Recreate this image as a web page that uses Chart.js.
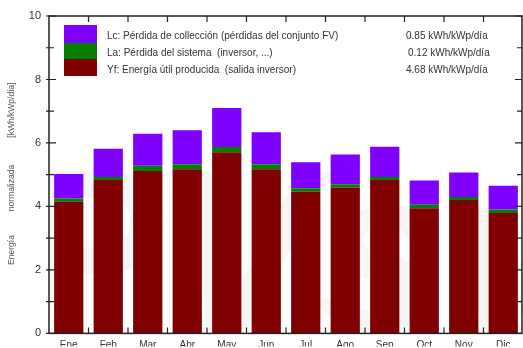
<!DOCTYPE html>
<html>
<head>
<meta charset="utf-8">
<script src="https://cdn.jsdelivr.net/npm/chart.js@4.4.1/dist/chart.umd.min.js"></script>
<style>
  html, body { margin: 0; padding: 0; background: #fff; }
  #wrap { width: 523px; height: 348px; }
</style>
</head>
<body>
<div id="wrap"><canvas id="grafico" width="523" height="348"></canvas></div>
<script>
// Dados do gráfico
const meses = ["Ene", "Feb", "Mar", "Abr", "May", "Jun", "Jul", "Ago", "Sep", "Oct", "Nov", "Dic"];
const yf = [4.15, 4.83, 5.12, 5.17, 5.71, 5.17, 4.46, 4.60, 4.83, 3.94, 4.20, 3.79];
const ls = [0.10, 0.10, 0.16, 0.16, 0.16, 0.16, 0.11, 0.10, 0.10, 0.11, 0.10, 0.11];
const lc = [0.77, 0.89, 1.01, 1.07, 1.23, 1.01, 0.82, 0.94, 0.95, 0.77, 0.77, 0.75];
const yTicks = [0, 2, 4, 6, 8, 10];

const legendaTextos = [
    "Lc: Pérdida de collección (pérdidas del conjunto FV)",
    "La: Pérdida del sistema  (inversor, ...)",
    "Yf: Energía útil producida  (salida inversor)"
];
const legendaValores = ["0.85 kWh/kWp/día", "0.12 kWh/kWp/día", "4.68 kWh/kWp/día"];

const corLc = "#7f00ff";
const corLs = "#008000";
const corYf = "#800000";

// Marca d'água, moldura, ticks, legenda e título do eixo
const molduraPlugin = {
    id: "moldura",
    beforeDatasetsDraw(chart) {
        const ctx = chart.ctx;
        const a = chart.chartArea;
        ctx.save();
        ctx.beginPath();
        ctx.rect(a.left, a.top, a.right - a.left, a.bottom - a.top);
        ctx.clip();
        ctx.fillStyle = "#f6f6f6";
        ctx.font = "italic bold 230px 'Liberation Sans', Arial, sans-serif";
        ctx.fillText("PVsyst", 10, 330);
        ctx.restore();
    },
    afterDraw(chart) {
        const ctx = chart.ctx;
        const a = chart.chartArea;
        const x = chart.scales.x;
        const y = chart.scales.y;
        ctx.save();
        ctx.strokeStyle = "#222";
        ctx.lineWidth = 1.5;
        ctx.strokeRect(a.left, a.top, a.right - a.left - 1, a.bottom - a.top);

        ctx.lineWidth = 1.2;
        ctx.beginPath();
        for (let v = 0; v <= 10; v++) {
            const py = y.getPixelForValue(v);
            const len = v % 2 === 0 ? 7 : 5;
            ctx.moveTo(a.left - 3, py);
            ctx.lineTo(a.left + len, py);
            ctx.moveTo(a.right - 1, py);
            ctx.lineTo(a.right - 1 - len, py);
        }
        for (let i = 0; i < meses.length - 1; i++) {
            const px = (x.getPixelForValue(i) + x.getPixelForValue(i + 1)) / 2;
            ctx.moveTo(px, a.bottom);
            ctx.lineTo(px, a.bottom - 6);
            ctx.moveTo(px, a.top);
            ctx.lineTo(px, a.top + 6);
        }
        ctx.stroke();

        // Legenda
        const cores = [corLc, corLs, corYf];
        const caixas = [[25, 18], [43, 16], [59, 17]];
        cores.forEach((c, i) => {
            ctx.fillStyle = c;
            ctx.fillRect(64, caixas[i][0], 33, caixas[i][1]);
        });
        ctx.fillStyle = "#333";
        ctx.font = "10px 'Liberation Sans', Arial, sans-serif";
        ctx.textBaseline = "middle";
        const linhas = [36, 53, 70];
        const xsValores = [406, 408, 406];
        legendaTextos.forEach((t, i) => {
            ctx.fillText(t, 107, linhas[i]);
            ctx.fillText(legendaValores[i], xsValores[i], linhas[i]);
        });

        // Título do eixo Y
        ctx.fillStyle = "#555";
        ctx.font = "8.5px 'Liberation Sans', Arial, sans-serif";
        ctx.textAlign = "center";
        const partes = [["Energía", 250], ["normalizada", 188], ["[kWh/kWp/día]", 110]];
        partes.forEach(([t, cy]) => {
            ctx.save();
            ctx.translate(12, cy);
            ctx.rotate(-Math.PI / 2);
            ctx.fillText(t, 0, 0);
            ctx.restore();
        });
        ctx.restore();
    }
};

const grafico = new Chart(document.getElementById("grafico"), {
    type: "bar",
    data: {
        labels: meses,
        datasets: [
            { label: "Yf", data: yf, backgroundColor: corYf },
            { label: "Ls", data: ls, backgroundColor: corLs },
            { label: "Lc", data: lc, backgroundColor: corLc }
        ]
    },
    options: {
        responsive: false,
        animation: false,
        devicePixelRatio: 1,
        layout: { padding: { top: 16, right: 0, left: 0, bottom: 0 } },
        datasets: {
            bar: { categoryPercentage: 1, barPercentage: 0.74, borderWidth: 0 }
        },
        plugins: {
            legend: { display: false },
            tooltip: { enabled: false }
        },
        scales: {
            x: {
                stacked: true,
                grid: { display: false, drawTicks: false },
                border: { display: false },
                ticks: {
                    color: "#333",
                    padding: 6,
                    maxRotation: 0,
                    font: { family: "'Liberation Sans', Arial, sans-serif", size: 10 }
                },
                afterFit(scale) { scale.height = 13; }
            },
            y: {
                stacked: true,
                min: 0,
                max: 10,
                grid: { display: false, drawTicks: false },
                border: { display: false },
                afterBuildTicks(scale) {
                    scale.ticks = yTicks.map(v => ({ value: v }));
                },
                ticks: {
                    color: "#333",
                    padding: 8,
                    font: { family: "'Liberation Sans', Arial, sans-serif", size: 11 }
                },
                afterFit(scale) { scale.width = 49; }
            }
        }
    },
    plugins: [molduraPlugin]
});
</script>
</body>
</html>
